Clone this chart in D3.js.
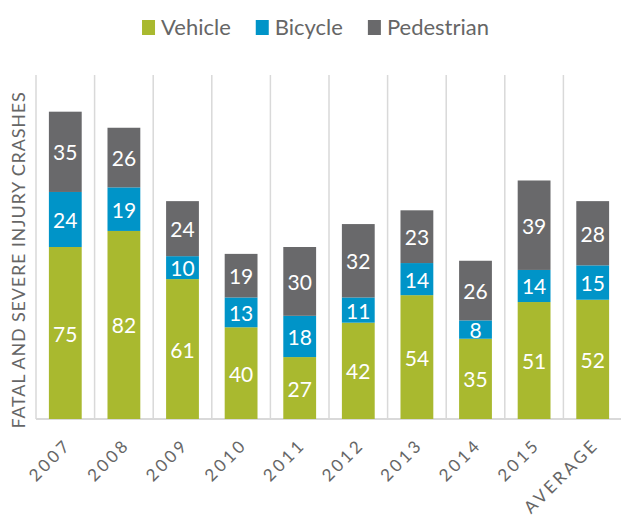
<!DOCTYPE html>
<html><head><meta charset="utf-8">
<script src="https://cdn.jsdelivr.net/npm/d3@7"></script>
<style>body{margin:0;background:#fff}svg{display:block}</style>
</head><body>
<svg id="c" width="621" height="518"></svg>
<script>
const categories = ["2007","2008","2009","2010","2011","2012","2013","2014","2015","AVERAGE"];
const vehicle    = [75,82,61,40,27,42,54,35,51,52];
const bicycle    = [24,19,10,13,18,11,14,8,14,15];
const pedestrian = [35,26,24,19,30,32,23,26,39,28];
const seriesNames = ["Vehicle","Bicycle","Pedestrian"];
const colors = ["#a9b92f","#0094c8","#69696b"];
const yTitle = "FATAL AND SEVERE INJURY CRASHES";

const svg = d3.select("#c");
const font = "Lato, 'Open Sans', sans-serif";
const x = d3.scaleBand().domain(categories).range([36, 622]).paddingInner(0.44).paddingOuter(0.22);
const y = d3.scaleLinear().domain([0,150]).range([419, 75]);

const rows = categories.map((c,i)=>({cat:c, Vehicle:vehicle[i], Bicycle:bicycle[i], Pedestrian:pedestrian[i]}));
const stack = d3.stack().keys(seriesNames)(rows);

// gridlines
const step = x.step(), half = step*x.paddingInner()/2;
const gx = categories.map(c=>x(c)-half).concat([x(categories[categories.length-1])+x.bandwidth()+half]);
svg.append("g").selectAll("line").data(gx).join("line")
  .attr("x1",d=>d).attr("x2",d=>d).attr("y1",y(150)).attr("y2",y(0))
  .attr("stroke","#d9d9d9").attr("stroke-width",1.5);
svg.append("line").attr("x1",gx[0]).attr("x2",621).attr("y1",y(0)).attr("y2",y(0))
  .attr("stroke","#d9d9d9").attr("stroke-width",2);

// bars
const layers = svg.append("g").selectAll("g").data(stack).join("g").attr("fill",(d,i)=>colors[i]);
layers.selectAll("rect").data(d=>d).join("rect")
  .attr("x",d=>x(d.data.cat)).attr("width",x.bandwidth())
  .attr("y",d=>y(d[1])).attr("height",d=>y(d[0])-y(d[1]));
layers.selectAll("text").data(d=>d).join("text")
  .attr("x",d=>x(d.data.cat)+x.bandwidth()/2).attr("y",d=>(y(d[0])+y(d[1]))/2)
  .attr("text-anchor","middle").attr("dominant-baseline","central")
  .attr("fill","#fff").attr("font-family",font).attr("font-size",21)
  .text(d=>d[1]-d[0]);

// x axis
const xa = svg.append("g").attr("transform",`translate(0,${y(0)})`)
  .call(d3.axisBottom(x).tickSize(0).tickPadding(0));
xa.select(".domain").remove();
xa.selectAll("text").attr("font-family",font).attr("font-size",17)
  .attr("fill","#666666").attr("letter-spacing","3px")
  .attr("text-anchor","end").attr("dy",0)
  .attr("transform","translate(7,27) rotate(-45)");

// y title
svg.append("text").attr("transform","translate(25,260) rotate(-90)")
  .attr("text-anchor","middle").attr("font-family",font).attr("font-size",18)
  .attr("letter-spacing","0.8px")
  .attr("fill","#666666").text(yTitle);

// legend
const lg = svg.append("g");
let cx = 0;
seriesNames.forEach((n,i)=>{
  const g = lg.append("g");
  g.append("rect").attr("x",0).attr("y",-15).attr("width",13).attr("height",15).attr("fill",colors[i]);
  const t = g.append("text").attr("x",19).attr("y",0).attr("font-family",font).attr("font-size",22)
    .attr("fill","#666666").text(n);
  const w = 19 + t.node().getComputedTextLength();
  g.attr("transform",`translate(${cx},35)`);
  cx += w + 25;
});
const total = cx - 25;
lg.attr("transform",`translate(${(621-total)/2+5},0)`);
</script>
</body></html>
